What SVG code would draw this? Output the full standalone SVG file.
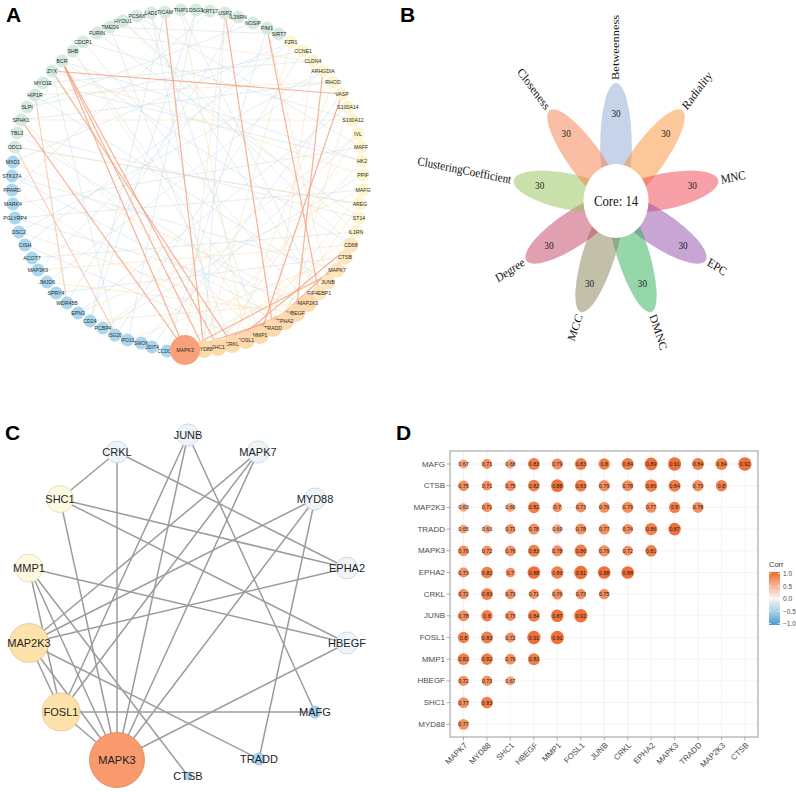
<svg xmlns="http://www.w3.org/2000/svg" width="796" height="792" viewBox="0 0 796 792">
<style>
.lbl{font-family:"Liberation Sans",Arial,sans-serif;font-weight:bold;font-size:21px;fill:#000}
.fb{stroke:#c9dde6;stroke-width:0.8;opacity:0.6}
.fy{stroke:#f8deb0;stroke-width:0.8;opacity:0.6}
.eo{stroke:#f5a07c;stroke-width:1.2;opacity:0.8}
.eol{stroke:#f7c3a2;stroke-width:1.1;opacity:0.8}
.nm{fill:#d5ebde}
.nb{fill:#a9d8ee}
.ny{fill:#fcf6cf}
.np1{fill:#fde5be}
.np2{fill:#fdd9ab}
.nx{fill:#f8a07a}
.ta{font-family:"Liberation Sans",Arial,sans-serif;font-size:5.2px;fill:#2a2a2a;text-anchor:middle;dominant-baseline:central}
.ts{font-size:4.7px}
.pb{fill:#8fa7d1;fill-opacity:0.5}
.pr{fill:#fb9133;fill-opacity:0.5}
.pm{fill:#f14151;fill-opacity:0.5}
.pe{fill:#914ba5;fill-opacity:0.5}
.pd{fill:#2daf55;fill-opacity:0.5}
.pc{fill:#878155;fill-opacity:0.5}
.pg{fill:#c3415f;fill-opacity:0.5}
.pl{fill:#91c355;fill-opacity:0.5}
.po{fill:#f57d4b;fill-opacity:0.5}
.tb{font-family:"Liberation Serif","Times New Roman",serif;font-size:12.5px;fill:#111;dominant-baseline:central}
.tn{font-family:"Liberation Serif","Times New Roman",serif;font-size:10.5px;fill:#222;text-anchor:middle;dominant-baseline:central}
.ce{stroke:#9c9c9c;stroke-width:1.5}
.cw{fill:#eef4f8;stroke:#c5d3dd;stroke-width:0.8}
.cy{fill:#fdf8e0;stroke:#e0d9b8;stroke-width:0.8}
.co{fill:#fde2a9;stroke:#e0c48e;stroke-width:0.8}
.cx{fill:#f89a6e;stroke:#e08358;stroke-width:0.8}
.cb{fill:#a5d5ee;stroke:#8cbfd9;stroke-width:0.8}
.tc{font-family:"Liberation Sans",Arial,sans-serif;font-size:11px;fill:#1e1e1e;text-anchor:middle;dominant-baseline:central}
.grid{stroke:#ebebeb;stroke-width:0.6}
.tick{stroke:#9a9a9a;stroke-width:0.8}
.yl{font-family:"Liberation Sans",Arial,sans-serif;font-size:8px;fill:#4d4d4d;text-anchor:end;dominant-baseline:central}
.xl{font-family:"Liberation Sans",Arial,sans-serif;font-size:8px;fill:#4d4d4d;text-anchor:end;dominant-baseline:central}
.tv{font-family:"Liberation Sans",Arial,sans-serif;font-size:5.3px;fill:#1a1a1a;text-anchor:middle;dominant-baseline:central}
.q1{fill:#f5a27d}
.q2{fill:#f38f60}
.q3{fill:#f17f4a}
.q4{fill:#ef7038}
.lg{font-family:"Liberation Sans",Arial,sans-serif;font-size:6.5px;fill:#4d4d4d;dominant-baseline:central}
</style>
<defs>
<linearGradient id="cbar" x1="0" y1="0" x2="0" y2="1">
<stop offset="0" stop-color="#ee6a2c"/>
<stop offset="0.25" stop-color="#f6b093"/>
<stop offset="0.5" stop-color="#f7f7f7"/>
<stop offset="0.75" stop-color="#a6cfe4"/>
<stop offset="1" stop-color="#4a9acb"/>
</linearGradient>
</defs>
<rect width="796" height="792" fill="#fff"/>

<!-- Panel labels -->
<text class="lbl" x="6" y="22">A</text>
<text class="lbl" x="400" y="22">B</text>
<text class="lbl" x="5" y="440">C</text>
<text class="lbl" x="396" y="440">D</text>

<!-- ================= PANEL A ================= -->
<g id="A-edges">
<line class="fb" x1="151" y1="13" x2="260" y2="335"/>
<line class="fb" x1="165" y1="12" x2="90" y2="321"/>
<line class="fb" x1="181" y1="10" x2="319" y2="293"/>
<line class="fb" x1="196" y1="10" x2="128" y2="340"/>
<line class="fb" x1="210" y1="11" x2="12" y2="190"/>
<line class="fb" x1="238" y1="17" x2="67" y2="303"/>
<line class="fb" x1="253" y1="23" x2="27" y2="107"/>
<line class="fb" x1="279" y1="34" x2="38" y2="270"/>
<line class="fb" x1="291" y1="42" x2="13" y2="162"/>
<line class="fb" x1="303" y1="51" x2="116" y2="335"/>
<line class="fb" x1="313" y1="61" x2="43" y2="83"/>
<line class="fb" x1="323" y1="71" x2="19" y2="232"/>
<line class="fb" x1="333" y1="82" x2="21" y2="120"/>
<line class="fb" x1="348" y1="107" x2="78" y2="313"/>
<line class="fb" x1="353" y1="120" x2="83" y2="42"/>
<line class="fb" x1="361" y1="147" x2="13" y2="204"/>
<line class="fb" x1="362" y1="161" x2="62" y2="61"/>
<line class="fb" x1="363" y1="175" x2="103" y2="328"/>
<line class="fb" x1="360" y1="204" x2="15" y2="147"/>
<line class="fb" x1="359" y1="218" x2="97" y2="33"/>
<line class="fb" x1="356" y1="232" x2="32" y2="258"/>
<line class="fb" x1="351" y1="245" x2="123" y2="21"/>
<line class="fb" x1="345" y1="257" x2="56" y2="293"/>
<line class="fb" x1="328" y1="282" x2="35" y2="95"/>
<line class="fb" x1="319" y1="293" x2="137" y2="16"/>
<line class="fb" x1="308" y1="303" x2="15" y2="218"/>
<line class="fb" x1="296" y1="313" x2="17" y2="133"/>
<line class="fb" x1="285" y1="321" x2="12" y2="176"/>
<line class="fb" x1="273" y1="328" x2="73" y2="51"/>
<line class="fb" x1="246" y1="340" x2="25" y2="245"/>
<line class="fb" x1="232" y1="344" x2="110" y2="27"/>
<line class="fb" x1="218" y1="347" x2="151" y2="13"/>
<line class="fb" x1="204" y1="349" x2="225" y2="13"/>
<line class="fb" x1="167" y1="351" x2="267" y2="28"/>
<line class="fb" x1="152" y1="347" x2="342" y2="94"/>
<line class="fb" x1="141" y1="343" x2="358" y2="134"/>
<line class="fb" x1="116" y1="335" x2="52" y2="71"/>
<line class="fb" x1="90" y1="321" x2="196" y2="10"/>
<line class="fb" x1="47" y1="282" x2="323" y2="71"/>
<line class="fb" x1="25" y1="245" x2="291" y2="42"/>
<line class="fb" x1="15" y1="218" x2="363" y2="190"/>
<line class="fb" x1="12" y1="176" x2="337" y2="270"/>
<line class="fb" x1="17" y1="133" x2="359" y2="218"/>
<line class="fb" x1="27" y1="107" x2="303" y2="51"/>
<line class="fb" x1="43" y1="83" x2="362" y2="161"/>
<line class="fb" x1="62" y1="61" x2="351" y2="245"/>
<line class="fb" x1="83" y1="42" x2="308" y2="303"/>
<line class="fb" x1="110" y1="27" x2="279" y2="34"/>
<line class="fb" x1="137" y1="16" x2="361" y2="147"/>
<line class="fy" x1="181" y1="10" x2="246" y2="340"/>
<line class="fy" x1="225" y1="13" x2="185" y2="350"/>
<line class="fy" x1="267" y1="28" x2="328" y2="282"/>
<line class="fy" x1="291" y1="42" x2="204" y2="349"/>
<line class="fy" x1="313" y1="61" x2="273" y2="328"/>
<line class="fy" x1="333" y1="82" x2="232" y2="344"/>
<line class="fy" x1="348" y1="107" x2="285" y2="321"/>
<line class="fy" x1="358" y1="134" x2="218" y2="347"/>
<line class="fy" x1="362" y1="161" x2="185" y2="350"/>
<line class="fy" x1="363" y1="190" x2="246" y2="340"/>
<line class="fy" x1="360" y1="204" x2="273" y2="328"/>
<line class="fy" x1="356" y1="232" x2="204" y2="349"/>
<line class="fy" x1="345" y1="257" x2="128" y2="340"/>
<line class="fy" x1="337" y1="270" x2="167" y2="351"/>
<line class="fy" x1="308" y1="303" x2="90" y2="321"/>
<line class="fy" x1="296" y1="313" x2="47" y2="282"/>
<line class="fy" x1="285" y1="321" x2="19" y2="232"/>
<line class="fy" x1="260" y1="335" x2="21" y2="120"/>
<line class="fy" x1="246" y1="340" x2="12" y2="190"/>
<line class="fy" x1="13" y1="162" x2="308" y2="303"/>
<line class="fy" x1="15" y1="147" x2="360" y2="204"/>
<line class="fy" x1="21" y1="120" x2="353" y2="120"/>
<line class="fy" x1="35" y1="95" x2="333" y2="82"/>
<line class="fy" x1="52" y1="71" x2="363" y2="175"/>
<line class="fy" x1="73" y1="51" x2="260" y2="335"/>
<line class="fy" x1="97" y1="33" x2="313" y2="61"/>
<line class="fy" x1="123" y1="21" x2="356" y2="232"/>
<line class="fy" x1="38" y1="270" x2="351" y2="245"/>
<line class="fy" x1="78" y1="313" x2="363" y2="190"/>
<line class="fy" x1="103" y1="328" x2="358" y2="134"/>
<line class="eol" x1="35" y1="95" x2="67" y2="303"/>
<line class="eol" x1="15" y1="147" x2="116" y2="335"/>
<line class="eo" x1="52" y1="71" x2="342" y2="94"/>
<line class="eo" x1="62" y1="61" x2="218" y2="347"/>
<line class="eo" x1="62" y1="61" x2="204" y2="349"/>
<line class="eo" x1="52" y1="71" x2="232" y2="344"/>
<line class="eo" x1="62" y1="61" x2="185" y2="350"/>
<line class="eo" x1="21" y1="120" x2="185" y2="350"/>
<line class="eo" x1="165" y1="12" x2="204" y2="349"/>
<line class="eo" x1="225" y1="13" x2="273" y2="328"/>
<line class="eo" x1="267" y1="28" x2="319" y2="293"/>
<line class="eo" x1="323" y1="71" x2="296" y2="313"/>
<line class="eo" x1="342" y1="94" x2="260" y2="335"/>
<line class="eo" x1="351" y1="245" x2="232" y2="344"/>
<line class="eo" x1="308" y1="303" x2="218" y2="347"/>
<line class="eo" x1="296" y1="313" x2="218" y2="347"/>
<line class="eo" x1="285" y1="321" x2="232" y2="344"/>
<line class="eo" x1="273" y1="328" x2="204" y2="349"/>
<line class="eo" x1="308" y1="303" x2="204" y2="349"/>
<line class="eo" x1="337" y1="270" x2="185" y2="350"/>
<line class="eo" x1="328" y1="282" x2="246" y2="340"/>
<line class="eo" x1="296" y1="313" x2="185" y2="350"/>
<line class="eo" x1="285" y1="321" x2="246" y2="340"/>
<line class="eo" x1="308" y1="303" x2="246" y2="340"/>
<line class="eo" x1="345" y1="257" x2="260" y2="335"/>
</g>

<g id="A-nodes">
<g id="a-LAD1"><circle class="nm" cx="151" cy="13" r="6.5"/><text class="ta" x="151" y="13">LAD1</text></g>
<g id="a-TICAM"><circle class="nm" cx="165" cy="12" r="6.5"/><text class="ta" x="165" y="12">TICAM</text></g>
<g id="a-TNIP1"><circle class="nm" cx="181" cy="10" r="6.5"/><text class="ta" x="181" y="10">TNIP1</text></g>
<g id="a-DSG3"><circle class="nm" cx="196" cy="10" r="6.5"/><text class="ta" x="196" y="10">DSG3</text></g>
<g id="a-KRT17"><circle class="nm" cx="210" cy="11" r="6.5"/><text class="ta" x="210" y="11">KRT17</text></g>
<g id="a-USP2"><circle class="nm" cx="225" cy="13" r="6.5"/><text class="ta" x="225" y="13">USP2</text></g>
<g id="a-IL36RN"><circle class="nm" cx="238" cy="17" r="6.5"/><text class="ta" x="238" y="17">IL36RN</text></g>
<g id="a-NOSIP"><circle class="nm" cx="253" cy="23" r="6.5"/><text class="ta" x="253" y="23">NOSIP</text></g>
<g id="a-PIM1"><circle class="nm" cx="267" cy="28" r="6.5"/><text class="ta" x="267" y="28">PIM1</text></g>
<g id="a-SIRT7"><circle class="nm" cx="279" cy="34" r="6.5"/><text class="ta" x="279" y="34">SIRT7</text></g>
<g id="a-FZR1"><circle class="ny" cx="291" cy="42" r="6.5"/><text class="ta" x="291" y="42">FZR1</text></g>
<g id="a-CCNE1"><circle class="ny" cx="303" cy="51" r="6.5"/><text class="ta" x="303" y="51">CCNE1</text></g>
<g id="a-CLDN4"><circle class="ny" cx="313" cy="61" r="6.5"/><text class="ta" x="313" y="61">CLDN4</text></g>
<g id="a-ARHGDIA"><circle class="ny" cx="323" cy="71" r="6.5"/><text class="ta" x="323" y="71">ARHGDIA</text></g>
<g id="a-RHOD"><circle class="ny" cx="333" cy="82" r="6.5"/><text class="ta" x="333" y="82">RHOD</text></g>
<g id="a-VASP"><circle class="ny" cx="342" cy="94" r="6.5"/><text class="ta" x="342" y="94">VASP</text></g>
<g id="a-S100A14"><circle class="ny" cx="348" cy="107" r="6.5"/><text class="ta" x="348" y="107">S100A14</text></g>
<g id="a-S100A12"><circle class="ny" cx="353" cy="120" r="6.5"/><text class="ta" x="353" y="120">S100A12</text></g>
<g id="a-IVL"><circle class="ny" cx="358" cy="134" r="6.5"/><text class="ta" x="358" y="134">IVL</text></g>
<g id="a-MAFF"><circle class="ny" cx="361" cy="147" r="6.5"/><text class="ta" x="361" y="147">MAFF</text></g>
<g id="a-HK2"><circle class="ny" cx="362" cy="161" r="6.5"/><text class="ta" x="362" y="161">HK2</text></g>
<g id="a-PPIF"><circle class="ny" cx="363" cy="175" r="6.5"/><text class="ta" x="363" y="175">PPIF</text></g>
<g id="a-MAFG"><circle class="ny" cx="363" cy="190" r="6.5"/><text class="ta" x="363" y="190">MAFG</text></g>
<g id="a-AREG"><circle class="ny" cx="360" cy="204" r="6.5"/><text class="ta" x="360" y="204">AREG</text></g>
<g id="a-ST14"><circle class="ny" cx="359" cy="218" r="6.5"/><text class="ta" x="359" y="218">ST14</text></g>
<g id="a-IL1RN"><circle class="ny" cx="356" cy="232" r="6.5"/><text class="ta" x="356" y="232">IL1RN</text></g>
<g id="a-CD68"><circle class="np1" cx="351" cy="245" r="7.5"/><text class="ta" x="351" y="245">CD68</text></g>
<g id="a-CTSB"><circle class="np1" cx="345" cy="257" r="7.5"/><text class="ta" x="345" y="257">CTSB</text></g>
<g id="a-MAPK7"><circle class="np1" cx="337" cy="270" r="7.5"/><text class="ta" x="337" y="270">MAPK7</text></g>
<g id="a-JUNB"><circle class="np1" cx="328" cy="282" r="7.5"/><text class="ta" x="328" y="282">JUNB</text></g>
<g id="a-EIF4EBP1"><circle class="np1" cx="319" cy="293" r="7.5"/><text class="ta" x="319" y="293">EIF4EBP1</text></g>
<g id="a-MAP2K3"><circle class="np2" cx="308" cy="303" r="9"/><text class="ta" x="308" y="303">MAP2K3</text></g>
<g id="a-HBEGF"><circle class="np2" cx="296" cy="313" r="9"/><text class="ta" x="296" y="313">HBEGF</text></g>
<g id="a-EPHA2"><circle class="np2" cx="285" cy="321" r="9"/><text class="ta" x="285" y="321">EPHA2</text></g>
<g id="a-TRADD"><circle class="np2" cx="273" cy="328" r="9"/><text class="ta" x="273" y="328">TRADD</text></g>
<g id="a-MMP1"><circle class="np2" cx="260" cy="335" r="9"/><text class="ta" x="260" y="335">MMP1</text></g>
<g id="a-FOSL1"><circle class="np2" cx="246" cy="340" r="9"/><text class="ta" x="246" y="340">FOSL1</text></g>
<g id="a-CRKL"><circle class="np2" cx="232" cy="344" r="9"/><text class="ta" x="232" y="344">CRKL</text></g>
<g id="a-SHC1"><circle class="np2" cx="218" cy="347" r="9"/><text class="ta" x="218" y="347">SHC1</text></g>
<g id="a-MYD88"><circle class="np2" cx="204" cy="349" r="9"/><text class="ta" x="204" y="349">MYD88</text></g>
<g id="a-CCDC86"><circle class="nb" cx="167" cy="351" r="6.5"/><text class="ta ts" x="167" y="351">CCDC86</text></g>
<g id="a-DDIT4"><circle class="nb" cx="152" cy="347" r="6.5"/><text class="ta ts" x="152" y="347">DDIT4</text></g>
<g id="a-SMOX"><circle class="nb" cx="141" cy="343" r="6.5"/><text class="ta ts" x="141" y="343">SMOX</text></g>
<g id="a-IPO13"><circle class="nb" cx="127.5" cy="340" r="6.5"/><text class="ta ts" x="127.5" y="340">IPO13</text></g>
<g id="a-ISG20"><circle class="nb" cx="115" cy="335" r="6.5"/><text class="ta ts" x="115" y="335">ISG20</text></g>
<g id="a-PCBP4"><circle class="nb" cx="103" cy="328" r="6.5"/><text class="ta" x="103" y="328">PCBP4</text></g>
<g id="a-CD24"><circle class="nb" cx="90" cy="321" r="6.5"/><text class="ta" x="90" y="321">CD24</text></g>
<g id="a-EPN3"><circle class="nb" cx="78" cy="313" r="6.5"/><text class="ta" x="78" y="313">EPN3</text></g>
<g id="a-WDR45B"><circle class="nb" cx="67" cy="303" r="6.5"/><text class="ta" x="67" y="303">WDR45B</text></g>
<g id="a-SPRY4"><circle class="nb" cx="56" cy="293" r="6.5"/><text class="ta" x="56" y="293">SPRY4</text></g>
<g id="a-JMJD6"><circle class="nb" cx="47" cy="282" r="6.5"/><text class="ta" x="47" y="282">JMJD6</text></g>
<g id="a-MAP3K9"><circle class="nb" cx="38" cy="270" r="6.5"/><text class="ta" x="38" y="270">MAP3K9</text></g>
<g id="a-ACOT7"><circle class="nb" cx="32" cy="258" r="6.5"/><text class="ta" x="32" y="258">ACOT7</text></g>
<g id="a-CISH"><circle class="nb" cx="25" cy="245" r="6.5"/><text class="ta" x="25" y="245">CISH</text></g>
<g id="a-DSC2"><circle class="nb" cx="19" cy="232" r="6.5"/><text class="ta" x="19" y="232">DSC2</text></g>
<g id="a-PGLYRP4"><circle class="nb" cx="15" cy="218" r="6.5"/><text class="ta" x="15" y="218">PGLYRP4</text></g>
<g id="a-MARK4"><circle class="nb" cx="13" cy="204" r="6.5"/><text class="ta" x="13" y="204">MARK4</text></g>
<g id="a-PPARD"><circle class="nb" cx="12" cy="190" r="6.5"/><text class="ta" x="12" y="190">PPARD</text></g>
<g id="a-STK17A"><circle class="nb" cx="12" cy="176" r="6.5"/><text class="ta" x="12" y="176">STK17A</text></g>
<g id="a-MXD1"><circle class="nb" cx="13" cy="162" r="6.5"/><text class="ta" x="13" y="162">MXD1</text></g>
<g id="a-ODC1"><circle class="nm" cx="15" cy="147" r="6.5"/><text class="ta" x="15" y="147">ODC1</text></g>
<g id="a-TBL3"><circle class="nm" cx="17" cy="133" r="6.5"/><text class="ta" x="17" y="133">TBL3</text></g>
<g id="a-SPHK1"><circle class="nm" cx="21" cy="120" r="6.5"/><text class="ta" x="21" y="120">SPHK1</text></g>
<g id="a-SLPI"><circle class="nm" cx="27" cy="107" r="6.5"/><text class="ta" x="27" y="107">SLPI</text></g>
<g id="a-HIP1R"><circle class="nm" cx="35" cy="95" r="6.5"/><text class="ta" x="35" y="95">HIP1R</text></g>
<g id="a-MYO1E"><circle class="nm" cx="43" cy="83" r="6.5"/><text class="ta" x="43" y="83">MYO1E</text></g>
<g id="a-ZYX"><circle class="nm" cx="52" cy="71" r="6.5"/><text class="ta" x="52" y="71">ZYX</text></g>
<g id="a-BCR"><circle class="nm" cx="62" cy="61" r="6.5"/><text class="ta" x="62" y="61">BCR</text></g>
<g id="a-SHB"><circle class="nm" cx="73" cy="51" r="6.5"/><text class="ta" x="73" y="51">SHB</text></g>
<g id="a-CDCP1"><circle class="nm" cx="83" cy="42" r="6.5"/><text class="ta" x="83" y="42">CDCP1</text></g>
<g id="a-FURIN"><circle class="nm" cx="97" cy="33" r="6.5"/><text class="ta" x="97" y="33">FURIN</text></g>
<g id="a-TMED9"><circle class="nm" cx="110" cy="27" r="6.5"/><text class="ta" x="110" y="27">TMED9</text></g>
<g id="a-HYOU1"><circle class="nm" cx="123" cy="21" r="6.5"/><text class="ta" x="123" y="21">HYOU1</text></g>
<g id="a-PCSK6"><circle class="nm" cx="137" cy="16" r="6.5"/><text class="ta" x="137" y="16">PCSK6</text></g>
<g id="a-MAPK3"><circle class="nx" cx="185" cy="350" r="15"/><text class="ta" x="185" y="350">MAPK3</text></g>
</g>

<!-- ================= PANEL B ================= -->
<g id="B-flower" transform="translate(616,201) scale(0.88,1)">
<g id="b-petals">
<ellipse class="pb" cx="55" cy="0" rx="63" ry="18" transform="rotate(-90)"/>
<ellipse class="pr" cx="55" cy="0" rx="63" ry="18" transform="rotate(-50)"/>
<ellipse class="pm" cx="55" cy="0" rx="63" ry="18" transform="rotate(-10)"/>
<ellipse class="pe" cx="55" cy="0" rx="63" ry="18" transform="rotate(30)"/>
<ellipse class="pd" cx="55" cy="0" rx="63" ry="18" transform="rotate(70)"/>
<ellipse class="pc" cx="55" cy="0" rx="63" ry="18" transform="rotate(110)"/>
<ellipse class="pg" cx="55" cy="0" rx="63" ry="18" transform="rotate(150)"/>
<ellipse class="pl" cx="55" cy="0" rx="63" ry="18" transform="rotate(-170)"/>
<ellipse class="po" cx="55" cy="0" rx="63" ry="18" transform="rotate(-130)"/>
</g>
<circle cx="0" cy="0" r="37" fill="#fff"/>
<text x="0" y="0" font-family="Liberation Serif,Times New Roman,serif" font-size="14.5" fill="#111" text-anchor="middle" dominant-baseline="central">Core: 14</text>
<g id="b-counts">
<text class="tn" x="0" y="-88">30</text>
<text class="tn" x="56.6" y="-67.4">30</text>
<text class="tn" x="86.7" y="-15.3">30</text>
<text class="tn" x="76.2" y="44">30</text>
<text class="tn" x="30.1" y="82.7">30</text>
<text class="tn" x="-30.1" y="82.7">30</text>
<text class="tn" x="-76.2" y="44">30</text>
<text class="tn" x="-86.7" y="-15.3">30</text>
<text class="tn" x="-56.6" y="-67.4">30</text>
</g>
<g id="b-labels">
<text class="tb" text-anchor="start" transform="rotate(-90) translate(121,0)">Betweenness</text>
<text class="tb" text-anchor="start" transform="rotate(-50) translate(121,0)">Radiality</text>
<text class="tb" text-anchor="start" transform="rotate(-10) translate(121,0)">MNC</text>
<text class="tb" text-anchor="start" transform="rotate(30) translate(121,0)">EPC</text>
<text class="tb" text-anchor="start" transform="rotate(70) translate(121,0)">DMNC</text>
<text class="tb" text-anchor="end" transform="rotate(110) translate(121,0) rotate(180)">MCC</text>
<text class="tb" text-anchor="end" transform="rotate(150) translate(121,0) rotate(180)">Degree</text>
<text class="tb" text-anchor="end" transform="rotate(-170) translate(121,0) rotate(180)">ClusteringCoefficient</text>
<text class="tb" text-anchor="end" transform="rotate(-130) translate(121,0) rotate(180)">Closeness</text>
</g>
</g>

<!-- ================= PANEL C ================= -->
<g id="C-edges">
<line class="ce" x1="117" y1="452" x2="60" y2="499"/>
<line class="ce" x1="117" y1="452" x2="117" y2="760"/>
<line class="ce" x1="117" y1="452" x2="347" y2="568"/>
<line class="ce" x1="188" y1="435" x2="61" y2="712"/>
<line class="ce" x1="188" y1="435" x2="117" y2="760"/>
<line class="ce" x1="188" y1="435" x2="315" y2="712"/>
<line class="ce" x1="258" y1="452" x2="29" y2="643"/>
<line class="ce" x1="258" y1="452" x2="61" y2="712"/>
<line class="ce" x1="258" y1="452" x2="117" y2="760"/>
<line class="ce" x1="60" y1="499" x2="347" y2="568"/>
<line class="ce" x1="60" y1="499" x2="347" y2="643"/>
<line class="ce" x1="60" y1="499" x2="117" y2="760"/>
<line class="ce" x1="315" y1="499" x2="29" y2="643"/>
<line class="ce" x1="315" y1="499" x2="117" y2="760"/>
<line class="ce" x1="315" y1="499" x2="259" y2="759"/>
<line class="ce" x1="29" y1="568" x2="347" y2="643"/>
<line class="ce" x1="29" y1="568" x2="61" y2="712"/>
<line class="ce" x1="29" y1="568" x2="117" y2="760"/>
<line class="ce" x1="29" y1="568" x2="188" y2="776"/>
<line class="ce" x1="29" y1="643" x2="347" y2="568"/>
<line class="ce" x1="29" y1="643" x2="259" y2="759"/>
<line class="ce" x1="29" y1="643" x2="61" y2="712"/>
<line class="ce" x1="29" y1="643" x2="117" y2="760"/>
<line class="ce" x1="61" y1="712" x2="315" y2="712"/>
<line class="ce" x1="61" y1="712" x2="117" y2="760"/>
<line class="ce" x1="117" y1="760" x2="347" y2="643"/>
</g>
<g id="C-nodes">
<g id="c-JUNB"><circle class="cw" cx="188" cy="435" r="11"/><text class="tc" x="188" y="435">JUNB</text></g>
<g id="c-CRKL"><circle class="cw" cx="117" cy="452" r="11"/><text class="tc" x="117" y="452">CRKL</text></g>
<g id="c-MAPK7"><circle class="cw" cx="258" cy="452" r="11"/><text class="tc" x="258" y="452">MAPK7</text></g>
<g id="c-SHC1"><circle class="cy" cx="60" cy="499" r="13.5"/><text class="tc" x="60" y="499">SHC1</text></g>
<g id="c-MYD88"><circle class="cw" cx="315" cy="499" r="11"/><text class="tc" x="315" y="499">MYD88</text></g>
<g id="c-MMP1"><circle class="cy" cx="29" cy="568" r="14"/><text class="tc" x="29" y="568">MMP1</text></g>
<g id="c-EPHA2"><circle class="cw" cx="347" cy="568" r="11"/><text class="tc" x="347" y="568">EPHA2</text></g>
<g id="c-MAP2K3"><circle class="co" cx="29" cy="643" r="19.5"/><text class="tc" x="29" y="643">MAP2K3</text></g>
<g id="c-HBEGF"><circle class="cw" cx="347" cy="643" r="11"/><text class="tc" x="347" y="643">HBEGF</text></g>
<g id="c-FOSL1"><circle class="co" cx="61" cy="712" r="19"/><text class="tc" x="61" y="712">FOSL1</text></g>
<g id="c-MAFG"><circle class="cb" cx="315" cy="712" r="6"/><text class="tc" x="315" y="712">MAFG</text></g>
<g id="c-MAPK3"><circle class="cx" cx="117" cy="760" r="27.5"/><text class="tc" x="117" y="760">MAPK3</text></g>
<g id="c-TRADD"><circle class="cb" cx="259" cy="759" r="6"/><text class="tc" x="259" y="759">TRADD</text></g>
<g id="c-CTSB"><circle class="cb" cx="188" cy="776" r="4"/><text class="tc" x="188" y="776">CTSB</text></g>
</g>

<!-- ================= PANEL D ================= -->
<g id="D-grid">
<line class="grid" x1="463.5" y1="451" x2="463.5" y2="737"/>
<line class="grid" x1="487" y1="451" x2="487" y2="737"/>
<line class="grid" x1="510.4" y1="451" x2="510.4" y2="737"/>
<line class="grid" x1="533.9" y1="451" x2="533.9" y2="737"/>
<line class="grid" x1="557.3" y1="451" x2="557.3" y2="737"/>
<line class="grid" x1="580.8" y1="451" x2="580.8" y2="737"/>
<line class="grid" x1="604.2" y1="451" x2="604.2" y2="737"/>
<line class="grid" x1="627.7" y1="451" x2="627.7" y2="737"/>
<line class="grid" x1="651.1" y1="451" x2="651.1" y2="737"/>
<line class="grid" x1="674.6" y1="451" x2="674.6" y2="737"/>
<line class="grid" x1="698" y1="451" x2="698" y2="737"/>
<line class="grid" x1="721.5" y1="451" x2="721.5" y2="737"/>
<line class="grid" x1="744.9" y1="451" x2="744.9" y2="737"/>
<line class="grid" x1="450" y1="464" x2="758" y2="464"/>
<line class="grid" x1="450" y1="485.7" x2="758" y2="485.7"/>
<line class="grid" x1="450" y1="507.4" x2="758" y2="507.4"/>
<line class="grid" x1="450" y1="529.1" x2="758" y2="529.1"/>
<line class="grid" x1="450" y1="550.8" x2="758" y2="550.8"/>
<line class="grid" x1="450" y1="572.5" x2="758" y2="572.5"/>
<line class="grid" x1="450" y1="594.1" x2="758" y2="594.1"/>
<line class="grid" x1="450" y1="615.8" x2="758" y2="615.8"/>
<line class="grid" x1="450" y1="637.5" x2="758" y2="637.5"/>
<line class="grid" x1="450" y1="659.2" x2="758" y2="659.2"/>
<line class="grid" x1="450" y1="680.9" x2="758" y2="680.9"/>
<line class="grid" x1="450" y1="702.6" x2="758" y2="702.6"/>
<line class="grid" x1="450" y1="724.3" x2="758" y2="724.3"/>
<rect x="450" y="451" width="308" height="286" fill="none" stroke="#9a9a9a" stroke-width="1"/>
</g>
<g id="D-ticks">
<line class="tick" x1="446.5" y1="464" x2="450" y2="464"/>
<line class="tick" x1="446.5" y1="485.7" x2="450" y2="485.7"/>
<line class="tick" x1="446.5" y1="507.4" x2="450" y2="507.4"/>
<line class="tick" x1="446.5" y1="529.1" x2="450" y2="529.1"/>
<line class="tick" x1="446.5" y1="550.8" x2="450" y2="550.8"/>
<line class="tick" x1="446.5" y1="572.5" x2="450" y2="572.5"/>
<line class="tick" x1="446.5" y1="594.1" x2="450" y2="594.1"/>
<line class="tick" x1="446.5" y1="615.8" x2="450" y2="615.8"/>
<line class="tick" x1="446.5" y1="637.5" x2="450" y2="637.5"/>
<line class="tick" x1="446.5" y1="659.2" x2="450" y2="659.2"/>
<line class="tick" x1="446.5" y1="680.9" x2="450" y2="680.9"/>
<line class="tick" x1="446.5" y1="702.6" x2="450" y2="702.6"/>
<line class="tick" x1="446.5" y1="724.3" x2="450" y2="724.3"/>
<line class="tick" x1="463.5" y1="737" x2="463.5" y2="740.5"/>
<line class="tick" x1="487" y1="737" x2="487" y2="740.5"/>
<line class="tick" x1="510.4" y1="737" x2="510.4" y2="740.5"/>
<line class="tick" x1="533.9" y1="737" x2="533.9" y2="740.5"/>
<line class="tick" x1="557.3" y1="737" x2="557.3" y2="740.5"/>
<line class="tick" x1="580.8" y1="737" x2="580.8" y2="740.5"/>
<line class="tick" x1="604.2" y1="737" x2="604.2" y2="740.5"/>
<line class="tick" x1="627.7" y1="737" x2="627.7" y2="740.5"/>
<line class="tick" x1="651.1" y1="737" x2="651.1" y2="740.5"/>
<line class="tick" x1="674.6" y1="737" x2="674.6" y2="740.5"/>
<line class="tick" x1="698" y1="737" x2="698" y2="740.5"/>
<line class="tick" x1="721.5" y1="737" x2="721.5" y2="740.5"/>
<line class="tick" x1="744.9" y1="737" x2="744.9" y2="740.5"/>
</g>
<g id="D-ylabels">
<text class="yl" x="445" y="464">MAFG</text>
<text class="yl" x="445" y="485.7">CTSB</text>
<text class="yl" x="445" y="507.4">MAP2K3</text>
<text class="yl" x="445" y="529.1">TRADD</text>
<text class="yl" x="445" y="550.8">MAPK3</text>
<text class="yl" x="445" y="572.5">EPHA2</text>
<text class="yl" x="445" y="594.1">CRKL</text>
<text class="yl" x="445" y="615.8">JUNB</text>
<text class="yl" x="445" y="637.5">FOSL1</text>
<text class="yl" x="445" y="659.2">MMP1</text>
<text class="yl" x="445" y="680.9">HBEGF</text>
<text class="yl" x="445" y="702.6">SHC1</text>
<text class="yl" x="445" y="724.3">MYD88</text>
</g>
<g id="D-xlabels">
<text class="xl" transform="translate(466,744) rotate(-45)">MAPK7</text>
<text class="xl" transform="translate(489.5,744) rotate(-45)">MYD88</text>
<text class="xl" transform="translate(512.9,744) rotate(-45)">SHC1</text>
<text class="xl" transform="translate(536.4,744) rotate(-45)">HBEGF</text>
<text class="xl" transform="translate(559.8,744) rotate(-45)">MMP1</text>
<text class="xl" transform="translate(583.3,744) rotate(-45)">FOSL1</text>
<text class="xl" transform="translate(606.7,744) rotate(-45)">JUNB</text>
<text class="xl" transform="translate(630.2,744) rotate(-45)">CRKL</text>
<text class="xl" transform="translate(653.6,744) rotate(-45)">EPHA2</text>
<text class="xl" transform="translate(677.1,744) rotate(-45)">MAPK3</text>
<text class="xl" transform="translate(700.5,744) rotate(-45)">TRADD</text>
<text class="xl" transform="translate(724,744) rotate(-45)">MAP2K3</text>
<text class="xl" transform="translate(747.4,744) rotate(-45)">CTSB</text>
</g>
<g id="D-cells">
<circle class="q1" cx="463.5" cy="464" r="4.56"/><text class="tv" x="463.5" y="464">0.67</text>
<circle class="q2" cx="487" cy="464" r="4.91"/><text class="tv" x="487" y="464">0.71</text>
<circle class="q1" cx="510.4" cy="464" r="4.65"/><text class="tv" x="510.4" y="464">0.68</text>
<circle class="q3" cx="533.9" cy="464" r="5.94"/><text class="tv" x="533.9" y="464">0.83</text>
<circle class="q2" cx="557.3" cy="464" r="5.59"/><text class="tv" x="557.3" y="464">0.79</text>
<circle class="q3" cx="580.8" cy="464" r="5.94"/><text class="tv" x="580.8" y="464">0.83</text>
<circle class="q3" cx="604.2" cy="464" r="5.68"/><text class="tv" x="604.2" y="464">0.8</text>
<circle class="q3" cx="627.7" cy="464" r="6.02"/><text class="tv" x="627.7" y="464">0.84</text>
<circle class="q4" cx="651.1" cy="464" r="6.45"/><text class="tv" x="651.1" y="464">0.89</text>
<circle class="q4" cx="674.6" cy="464" r="6.63"/><text class="tv" x="674.6" y="464">0.91</text>
<circle class="q3" cx="698" cy="464" r="6.02"/><text class="tv" x="698" y="464">0.84</text>
<circle class="q3" cx="721.5" cy="464" r="6.02"/><text class="tv" x="721.5" y="464">0.84</text>
<circle class="q4" cx="744.9" cy="464" r="6.71"/><text class="tv" x="744.9" y="464">0.92</text>

<circle class="q2" cx="463.5" cy="485.7" r="5.25"/><text class="tv" x="463.5" y="485.7">0.75</text>
<circle class="q2" cx="487" cy="485.7" r="4.91"/><text class="tv" x="487" y="485.7">0.71</text>
<circle class="q2" cx="510.4" cy="485.7" r="5.25"/><text class="tv" x="510.4" y="485.7">0.75</text>
<circle class="q3" cx="533.9" cy="485.7" r="5.85"/><text class="tv" x="533.9" y="485.7">0.82</text>
<circle class="q4" cx="557.3" cy="485.7" r="6.37"/><text class="tv" x="557.3" y="485.7">0.88</text>
<circle class="q3" cx="580.8" cy="485.7" r="5.94"/><text class="tv" x="580.8" y="485.7">0.83</text>
<circle class="q2" cx="604.2" cy="485.7" r="5.59"/><text class="tv" x="604.2" y="485.7">0.79</text>
<circle class="q2" cx="627.7" cy="485.7" r="5.51"/><text class="tv" x="627.7" y="485.7">0.78</text>
<circle class="q3" cx="651.1" cy="485.7" r="6.2"/><text class="tv" x="651.1" y="485.7">0.86</text>
<circle class="q3" cx="674.6" cy="485.7" r="6.02"/><text class="tv" x="674.6" y="485.7">0.84</text>
<circle class="q2" cx="698" cy="485.7" r="5.59"/><text class="tv" x="698" y="485.7">0.79</text>
<circle class="q3" cx="721.5" cy="485.7" r="5.68"/><text class="tv" x="721.5" y="485.7">0.8</text>

<circle class="q1" cx="463.5" cy="507.4" r="4.22"/><text class="tv" x="463.5" y="507.4">0.63</text>
<circle class="q2" cx="487" cy="507.4" r="4.91"/><text class="tv" x="487" y="507.4">0.71</text>
<circle class="q1" cx="510.4" cy="507.4" r="4.48"/><text class="tv" x="510.4" y="507.4">0.66</text>
<circle class="q3" cx="533.9" cy="507.4" r="5.85"/><text class="tv" x="533.9" y="507.4">0.82</text>
<circle class="q2" cx="557.3" cy="507.4" r="4.82"/><text class="tv" x="557.3" y="507.4">0.7</text>
<circle class="q2" cx="580.8" cy="507.4" r="5.08"/><text class="tv" x="580.8" y="507.4">0.73</text>
<circle class="q2" cx="604.2" cy="507.4" r="5.34"/><text class="tv" x="604.2" y="507.4">0.76</text>
<circle class="q2" cx="627.7" cy="507.4" r="5.59"/><text class="tv" x="627.7" y="507.4">0.79</text>
<circle class="q2" cx="651.1" cy="507.4" r="5.42"/><text class="tv" x="651.1" y="507.4">0.77</text>
<circle class="q3" cx="674.6" cy="507.4" r="5.68"/><text class="tv" x="674.6" y="507.4">0.8</text>
<circle class="q2" cx="698" cy="507.4" r="5.51"/><text class="tv" x="698" y="507.4">0.78</text>

<circle class="q1" cx="463.5" cy="529.1" r="4.39"/><text class="tv" x="463.5" y="529.1">0.65</text>
<circle class="q1" cx="487" cy="529.1" r="4.22"/><text class="tv" x="487" y="529.1">0.63</text>
<circle class="q2" cx="510.4" cy="529.1" r="4.91"/><text class="tv" x="510.4" y="529.1">0.71</text>
<circle class="q2" cx="533.9" cy="529.1" r="5.51"/><text class="tv" x="533.9" y="529.1">0.78</text>
<circle class="q1" cx="557.3" cy="529.1" r="4.73"/><text class="tv" x="557.3" y="529.1">0.69</text>
<circle class="q2" cx="580.8" cy="529.1" r="5.51"/><text class="tv" x="580.8" y="529.1">0.78</text>
<circle class="q2" cx="604.2" cy="529.1" r="5.42"/><text class="tv" x="604.2" y="529.1">0.77</text>
<circle class="q2" cx="627.7" cy="529.1" r="5.16"/><text class="tv" x="627.7" y="529.1">0.74</text>
<circle class="q3" cx="651.1" cy="529.1" r="6.2"/><text class="tv" x="651.1" y="529.1">0.86</text>
<circle class="q4" cx="674.6" cy="529.1" r="6.28"/><text class="tv" x="674.6" y="529.1">0.87</text>

<circle class="q2" cx="463.5" cy="550.8" r="5.34"/><text class="tv" x="463.5" y="550.8">0.76</text>
<circle class="q2" cx="487" cy="550.8" r="4.99"/><text class="tv" x="487" y="550.8">0.72</text>
<circle class="q2" cx="510.4" cy="550.8" r="5.34"/><text class="tv" x="510.4" y="550.8">0.76</text>
<circle class="q3" cx="533.9" cy="550.8" r="5.94"/><text class="tv" x="533.9" y="550.8">0.83</text>
<circle class="q2" cx="557.3" cy="550.8" r="5.51"/><text class="tv" x="557.3" y="550.8">0.78</text>
<circle class="q3" cx="580.8" cy="550.8" r="6.2"/><text class="tv" x="580.8" y="550.8">0.86</text>
<circle class="q2" cx="604.2" cy="550.8" r="5.59"/><text class="tv" x="604.2" y="550.8">0.79</text>
<circle class="q2" cx="627.7" cy="550.8" r="4.99"/><text class="tv" x="627.7" y="550.8">0.72</text>
<circle class="q3" cx="651.1" cy="550.8" r="5.77"/><text class="tv" x="651.1" y="550.8">0.81</text>

<circle class="q2" cx="463.5" cy="572.5" r="5.08"/><text class="tv" x="463.5" y="572.5">0.73</text>
<circle class="q3" cx="487" cy="572.5" r="5.85"/><text class="tv" x="487" y="572.5">0.82</text>
<circle class="q2" cx="510.4" cy="572.5" r="4.82"/><text class="tv" x="510.4" y="572.5">0.7</text>
<circle class="q4" cx="533.9" cy="572.5" r="6.37"/><text class="tv" x="533.9" y="572.5">0.88</text>
<circle class="q3" cx="557.3" cy="572.5" r="6.2"/><text class="tv" x="557.3" y="572.5">0.86</text>
<circle class="q4" cx="580.8" cy="572.5" r="6.63"/><text class="tv" x="580.8" y="572.5">0.91</text>
<circle class="q4" cx="604.2" cy="572.5" r="6.37"/><text class="tv" x="604.2" y="572.5">0.88</text>
<circle class="q4" cx="627.7" cy="572.5" r="6.37"/><text class="tv" x="627.7" y="572.5">0.88</text>

<circle class="q2" cx="463.5" cy="594.1" r="4.99"/><text class="tv" x="463.5" y="594.1">0.72</text>
<circle class="q3" cx="487" cy="594.1" r="5.94"/><text class="tv" x="487" y="594.1">0.83</text>
<circle class="q2" cx="510.4" cy="594.1" r="5.08"/><text class="tv" x="510.4" y="594.1">0.73</text>
<circle class="q2" cx="533.9" cy="594.1" r="4.91"/><text class="tv" x="533.9" y="594.1">0.71</text>
<circle class="q2" cx="557.3" cy="594.1" r="5.34"/><text class="tv" x="557.3" y="594.1">0.76</text>
<circle class="q2" cx="580.8" cy="594.1" r="5.08"/><text class="tv" x="580.8" y="594.1">0.73</text>
<circle class="q2" cx="604.2" cy="594.1" r="5.25"/><text class="tv" x="604.2" y="594.1">0.75</text>

<circle class="q2" cx="463.5" cy="615.8" r="5.51"/><text class="tv" x="463.5" y="615.8">0.78</text>
<circle class="q3" cx="487" cy="615.8" r="5.68"/><text class="tv" x="487" y="615.8">0.8</text>
<circle class="q2" cx="510.4" cy="615.8" r="5.08"/><text class="tv" x="510.4" y="615.8">0.73</text>
<circle class="q3" cx="533.9" cy="615.8" r="6.02"/><text class="tv" x="533.9" y="615.8">0.84</text>
<circle class="q4" cx="557.3" cy="615.8" r="6.28"/><text class="tv" x="557.3" y="615.8">0.87</text>
<circle class="q4" cx="580.8" cy="615.8" r="6.71"/><text class="tv" x="580.8" y="615.8">0.92</text>

<circle class="q3" cx="463.5" cy="637.5" r="5.68"/><text class="tv" x="463.5" y="637.5">0.8</text>
<circle class="q3" cx="487" cy="637.5" r="5.94"/><text class="tv" x="487" y="637.5">0.83</text>
<circle class="q2" cx="510.4" cy="637.5" r="4.99"/><text class="tv" x="510.4" y="637.5">0.72</text>
<circle class="q4" cx="533.9" cy="637.5" r="6.63"/><text class="tv" x="533.9" y="637.5">0.91</text>
<circle class="q4" cx="557.3" cy="637.5" r="6.63"/><text class="tv" x="557.3" y="637.5">0.91</text>

<circle class="q3" cx="463.5" cy="659.2" r="5.85"/><text class="tv" x="463.5" y="659.2">0.82</text>
<circle class="q3" cx="487" cy="659.2" r="5.85"/><text class="tv" x="487" y="659.2">0.82</text>
<circle class="q2" cx="510.4" cy="659.2" r="5.34"/><text class="tv" x="510.4" y="659.2">0.76</text>
<circle class="q3" cx="533.9" cy="659.2" r="5.94"/><text class="tv" x="533.9" y="659.2">0.83</text>

<circle class="q2" cx="463.5" cy="680.9" r="4.99"/><text class="tv" x="463.5" y="680.9">0.72</text>
<circle class="q2" cx="487" cy="680.9" r="5.08"/><text class="tv" x="487" y="680.9">0.73</text>
<circle class="q1" cx="510.4" cy="680.9" r="4.56"/><text class="tv" x="510.4" y="680.9">0.67</text>

<circle class="q2" cx="463.5" cy="702.6" r="5.42"/><text class="tv" x="463.5" y="702.6">0.77</text>
<circle class="q3" cx="487" cy="702.6" r="5.94"/><text class="tv" x="487" y="702.6">0.83</text>

<circle class="q2" cx="463.5" cy="724.3" r="5.42"/><text class="tv" x="463.5" y="724.3">0.77</text>
</g>
<g id="D-legend">
<text x="769" y="567" font-family="Liberation Sans,Arial,sans-serif" font-size="7.5" fill="#333">Corr</text>
<rect x="769" y="572" width="11" height="53" fill="url(#cbar)"/>
<g stroke="#fff" stroke-width="0.7">
<line x1="769" y1="573.5" x2="771.2" y2="573.5"/><line x1="777.8" y1="573.5" x2="780" y2="573.5"/>
<line x1="769" y1="586" x2="771.2" y2="586"/><line x1="777.8" y1="586" x2="780" y2="586"/>
<line x1="769" y1="598.5" x2="771.2" y2="598.5"/><line x1="777.8" y1="598.5" x2="780" y2="598.5"/>
<line x1="769" y1="611" x2="771.2" y2="611"/><line x1="777.8" y1="611" x2="780" y2="611"/>
<line x1="769" y1="623.5" x2="771.2" y2="623.5"/><line x1="777.8" y1="623.5" x2="780" y2="623.5"/>
</g>
<text class="lg" x="783" y="573.5">1.0</text>
<text class="lg" x="783" y="586">0.5</text>
<text class="lg" x="783" y="598.5">0.0</text>
<text class="lg" x="783" y="611">−0.5</text>
<text class="lg" x="783" y="623.5">−1.0</text>
</g>
</svg>
